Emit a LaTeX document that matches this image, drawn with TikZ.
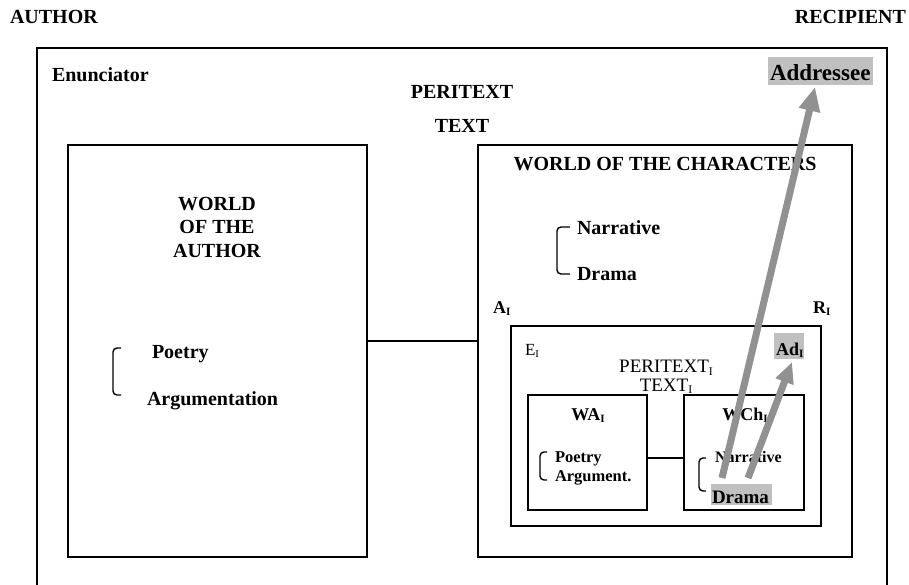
\documentclass[tikz,border=0pt]{standalone}
\usepackage{fontspec}
\setmainfont{Liberation Serif}
\usetikzlibrary{arrows.meta}
\definecolor{hl}{RGB}{192,192,192}
\definecolor{ac}{RGB}{145,145,145}
\newcommand{\isub}[1]{\raisebox{-0.3ex}{\scalebox{0.62}{#1}}}
\begin{document}
\begin{tikzpicture}[x=1pt,y=-1pt,
  box/.style={draw, line width=2.3pt, inner sep=0pt, outer sep=0pt, anchor=north west},
  tb/.style={inner sep=0pt, outer sep=0pt, font=\bfseries\fontsize{#1}{#1}\selectfont},
  tr/.style={inner sep=0pt, outer sep=0pt, font=\fontsize{#1}{#1}\selectfont},
  brk/.style={draw, line width=1.4pt, rounded corners=4pt},
  conn/.style={draw, line width=2pt},
  arr/.style={draw=ac, line width=7pt, -{Triangle[length=#1,width=0.85*#1]}, fill=ac}]
\useasboundingbox (0,0) rectangle (909,584);
\fill[white] (0,0) rectangle (909,584);

\node[tb=20, anchor=base west] (author) at (10,23) {AUTHOR};
\node[tb=20, anchor=base east] (recip) at (906,23) {RECIPIENT};

\node[box, line width=2.8pt, minimum width=850, minimum height=560] (outer) at (37,48) {};
\node[tb=20, anchor=base west] (enun) at (52,81) {Enunciator};
\fill[hl] (768,57) rectangle (873,85);
\node[tb=23, anchor=base west] (addr) at (770,80) {Addressee};
\node[tb=20, anchor=base] (peri) at (462,98) {PERITEXT};
\node[tb=20, anchor=base] (txt) at (462,132) {TEXT};

% world of the author
\node[box, minimum width=299, minimum height=412] (wauth) at (68,145) {};
\node[tb=20, anchor=base] (wauth1) at (217,210) {WORLD};
\node[tb=20, anchor=base] (wauth2) at (217,233) {OF THE};
\node[tb=20, anchor=base] (wauth3) at (217,257) {AUTHOR};
\node[tb=20, anchor=base west] (poe) at (152,358) {Poetry};
\node[tb=20, anchor=base west] (argu) at (147,405) {Argumentation};
\draw[brk] (121,348) -- (113,348) -- (113,395) -- (121,395);

% world of the characters
\node[box, minimum width=374, minimum height=412] (wchar) at (478,145) {};
\node[tb=20, anchor=base] (wcharT) at (665,170) {WORLD OF THE CHARACTERS};
\node[tb=20, anchor=base west] (narr) at (577,234) {Narrative};
\node[tb=20, anchor=base west] (dram) at (577,280) {Drama};
\draw[brk] (570,227) -- (557,227) -- (557,274) -- (570,274);
\node[tb=18, anchor=base west] (ai) at (493,313) {A\isub{I}};
\node[tb=18, anchor=base west] (ri) at (813,313) {R\isub{I}};

\draw[conn] ([yshift=10pt]wauth.east) -- ([yshift=10pt]wauth.east -| wchar.west);

% inner text
\node[box, line width=2.8pt, minimum width=310, minimum height=200] (ebox) at (511,326) {};
\node[tr=17, anchor=base west] (ei) at (525,355) {E\isub{I}};
\fill[hl] (774,333) rectangle (804,359);
\node[tb=18, anchor=base west] (adi) at (776,355) {Ad\isub{I}};
\node[tr=19, anchor=base] (perii) at (666,372.5) {PERITEXT\isub{I}};
\node[tr=19, anchor=base] (txti) at (666,391) {TEXT\isub{I}};

\node[box, minimum width=119, minimum height=115] (wai) at (528,395) {};
\node[box, minimum width=120, minimum height=115] (wchi) at (684,395) {};
\node[tb=18, anchor=base] (waiT) at (588,420) {WA\isub{I}};
\node[tb=18, anchor=base] (wchiT) at (745,420) {WCh\isub{I}};
\node[tb=16.5, anchor=base west] (poei) at (555,462) {Poetry};
\node[tb=16.5, anchor=base west] (argi) at (555,481) {Argument.};
\draw[brk] (547,452) -- (540,452) -- (540,480) -- (547,480);
\node[tb=16, anchor=base west] (narri) at (715,462) {Narrative};
\fill[hl] (711,484) rectangle (772,505);
\node[tb=19, anchor=base west] (drami) at (712,503) {Drama};
\draw[brk] (706,458) -- (699,458) -- (699,491) -- (706,491);
\draw[conn] ([yshift=-5.5pt]wai.east) -- ([yshift=-5.5pt]wai.east -| wchi.west);

% arrows
\coordinate (a1s) at (722,478);
\coordinate (a1e) at (815,87);
\coordinate (a2s) at (748,478);
\coordinate (a2e) at (792,362);
\draw[arr=24pt] (a1s) -- (a1e);
\draw[arr=21pt] (a2s) -- (a2e);
\end{tikzpicture}
\end{document}
